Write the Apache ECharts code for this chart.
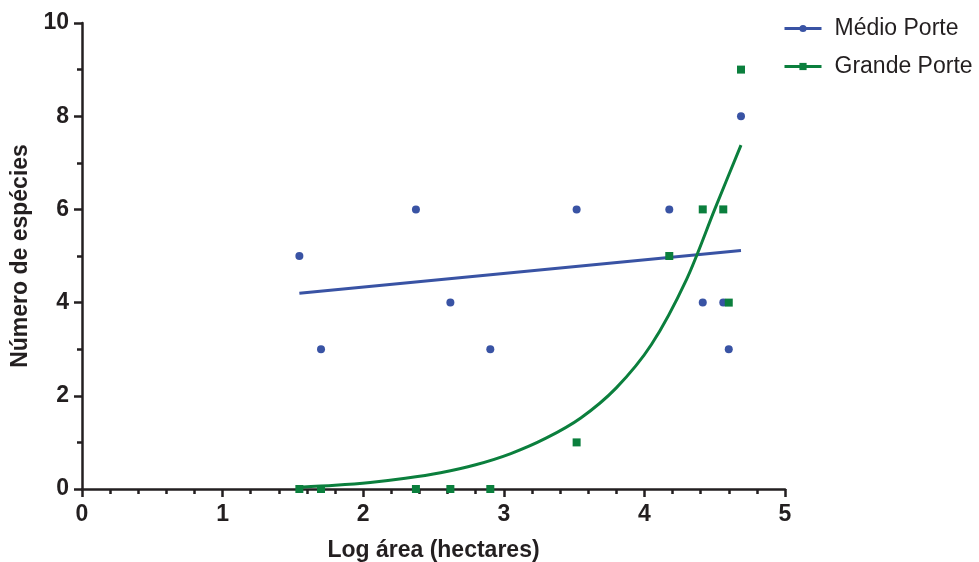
<!DOCTYPE html>
<html>
<head>
<meta charset="utf-8">
<script src="https://cdn.jsdelivr.net/npm/echarts@6/dist/echarts.min.js"></script>
<style>
html,body{margin:0;padding:0;background:#fff;}
#chart{width:979px;height:562px;}
</style>
</head>
<body>
<div id="chart"></div>
<script>
// Log área (hectares) of each site
var logArea = [1.546, 1.70, 2.375, 2.62, 2.904, 3.518, 4.177, 4.415, 4.561, 4.60, 4.687];
// Número de espécies
var medioPorte = [5, 3, 6, 4, 3, 6, 6, 4, 4, 3, 8];
var grandePorte = [0, 0, 0, 0, 0, 1, 5, 6, 6, 4, 9];
// Linear fit for Médio Porte (end points)
var medioFitX = [1.546, 4.687];
var medioFitY = [4.2, 5.12];
// Exponential fit for Grande Porte
var grandeFitX = [1.546, 1.8, 2.05, 2.3, 2.55, 2.8, 3.05, 3.3, 3.55, 3.8, 4.05, 4.3, 4.5, 4.687];
var grandeFitY = [0.04, 0.08, 0.14, 0.23, 0.35, 0.52, 0.76, 1.09, 1.53, 2.17, 3.1, 4.5, 6.0, 7.38];
var xTicks = [0, 1, 2, 3, 4, 5];
var yTicks = [0, 2, 4, 6, 8, 10];
var seriesNames = ['Médio Porte', 'Grande Porte'];

var BLUE = '#3953a4';
var GREEN = '#0b7f3d';
var AXIS = '#231f20';
var FONT = '"Liberation Sans", Arial, sans-serif';

function pairs(xs, ys) { return xs.map(function (x, i) { return [x, ys[i]]; }); }

var chart = echarts.init(document.getElementById('chart'), null, {renderer: 'canvas'});
chart.setOption({
  animation: false,
  backgroundColor: '#fff',
  grid: {left: 82, top: 23, width: 703, height: 466, containLabel: false, outerBoundsMode: 'none'},
  legend: {
    data: seriesNames,
    orient: 'vertical',
    left: 778,
    top: 12,
    itemWidth: 37,
    itemHeight: 9,
    itemGap: 15,
    lineStyle: {width: 3},
    textStyle: {fontFamily: FONT, fontSize: 23, color: '#231f20', padding: [0, 0, 0, 8]}
  },
  xAxis: {
    type: 'value',
    min: xTicks[0], max: xTicks[xTicks.length - 1], interval: 1,
    name: 'Log área (hectares)',
    nameLocation: 'middle',
    nameGap: 50,
    nameTextStyle: {fontFamily: FONT, fontSize: 23, fontWeight: 'bold', color: AXIS},
    axisLine: {show: true, onZero: false, lineStyle: {color: AXIS, width: 2.5}},
    axisTick: {show: true, length: 8, lineStyle: {color: AXIS, width: 2.5}},
    minorTick: {show: true, splitNumber: 5, length: 5, lineStyle: {color: AXIS, width: 2.5}},
    axisLabel: {margin: 14, fontFamily: FONT, fontSize: 23, fontWeight: 'bold', color: AXIS},
    splitLine: {show: false}
  },
  yAxis: {
    type: 'value',
    min: yTicks[0], max: yTicks[yTicks.length - 1], interval: 2,
    name: 'Número de espécies',
    nameLocation: 'middle',
    nameGap: 48,
    nameTextStyle: {fontFamily: FONT, fontSize: 23, fontWeight: 'bold', color: AXIS},
    axisLine: {show: true, onZero: false, lineStyle: {color: AXIS, width: 2.5}},
    axisTick: {show: true, length: 8, lineStyle: {color: AXIS, width: 2.5}},
    minorTick: {show: true, splitNumber: 2, length: 5, lineStyle: {color: AXIS, width: 2.5}},
    axisLabel: {margin: 13, fontFamily: FONT, fontSize: 23, fontWeight: 'bold', color: AXIS},
    splitLine: {show: false}
  },
  series: [
    {
      name: seriesNames[0], type: 'line', data: pairs(medioFitX, medioFitY),
      symbol: 'circle', showSymbol: false, symbolSize: 7,
      lineStyle: {color: BLUE, width: 3}, itemStyle: {color: BLUE}, z: 3
    },
    {
      name: seriesNames[1], type: 'line', data: pairs(grandeFitX, grandeFitY),
      symbol: 'rect', showSymbol: false, symbolSize: 7, smooth: 0.3,
      lineStyle: {color: GREEN, width: 3}, itemStyle: {color: GREEN}, z: 3
    },
    {
      name: 'Médio Porte pontos', type: 'scatter', data: pairs(logArea, medioPorte),
      symbol: 'circle', symbolSize: 8, itemStyle: {color: BLUE, opacity: 1}, z: 4
    },
    {
      name: 'Grande Porte pontos', type: 'scatter', data: pairs(logArea, grandePorte),
      symbol: 'rect', symbolSize: 8, itemStyle: {color: GREEN, opacity: 1}, z: 5
    }
  ]
});
</script>
</body>
</html>
